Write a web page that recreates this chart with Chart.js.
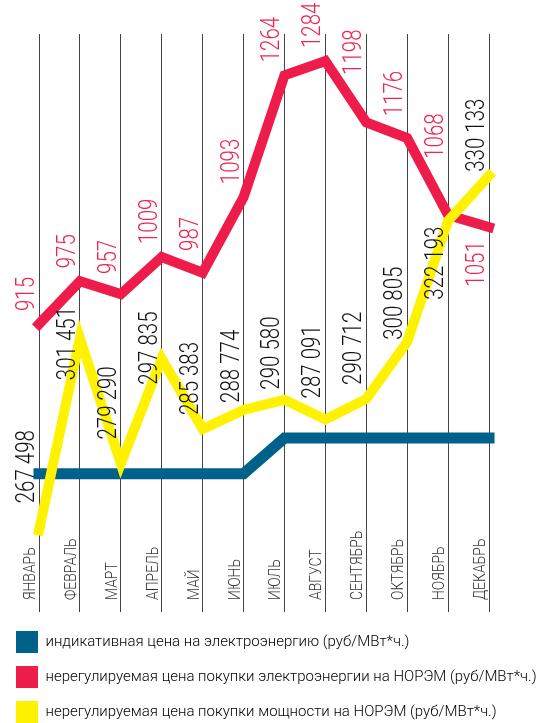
<!DOCTYPE html>
<html>
<head>
<meta charset="utf-8">
<script src="https://cdn.jsdelivr.net/npm/chart.js@4"></script>
<style>
  html, body { margin: 0; padding: 0; background: #fff; overflow: hidden; }
  #wrap { width: 540px; height: 733px; position: relative; }
</style>
</head>
<body>
<div id="wrap"><canvas id="myChart"></canvas></div>
<script>
// months on the x axis
const months = ["ЯНВАРЬ", "ФЕВРАЛЬ", "МАРТ", "АПРЕЛЬ", "МАЙ", "ИЮНЬ", "ИЮЛЬ", "АВГУСТ", "СЕНТЯБРЬ", "ОКТЯБРЬ", "НОЯБРЬ", "ДЕКАБРЬ"];

// indicative price (no labels in the picture, read off the red scale)
const indicativePrice = [705, 705, 705, 705, 705, 705, 755, 755, 755, 755, 755, 755];
// unregulated energy price on the wholesale market
const energyPrice = [915, 975, 957, 1009, 987, 1093, 1264, 1284, 1198, 1176, 1068, 1051];
// unregulated capacity price
const capacityPrice = [267498, 301451, 279290, 297835, 285383, 288774, 290580, 287091, 290712, 300805, 322193, 330133];

const seriesNames = [
  "индикативная цена на электроэнергию (руб/МВт*ч.)",
  "нерегулируемая цена покупки электроэнергии на НОРЭМ (руб/МВт*ч.)",
  "нерегулируемая цена покупки мощности на НОРЭМ (руб/МВт*ч.)",
];

const BLUE = "#00618a";
const RED = "#ed1c4a";
const YELLOW = "#fff200";
const FONT = 'Roboto, "Liberation Sans", sans-serif';

const fmt = (v) => String(v).replace(/\B(?=(\d{3})+(?!\d))/g, " ");

// write text turned 90deg counter-clockwise, anchored at (x, y),
// squeezed along its length to mimic the condensed face of the original
function drawUp(ctx, text, x, y, align, squeeze) {
  ctx.save();
  ctx.translate(x, y);
  ctx.rotate(-Math.PI / 2);
  ctx.scale(squeeze, 1);
  ctx.textAlign = align;
  ctx.textBaseline = "alphabetic";
  ctx.fillText(text, 0, 0);
  ctx.restore();
}

const valueLabels = {
  id: "valueLabels",
  afterDatasetsDraw(chart, args, opts) {
    const { ctx, chartArea, scales } = chart;
    ctx.save();

    // month names sit at the foot of every grid line
    ctx.font = "300 16px " + FONT;
    ctx.fillStyle = "#333";
    months.forEach((m, i) => {
      drawUp(ctx, m, scales.x.getPixelForValue(i) - 4, chartArea.bottom - 12, "left", 0.87);
    });

    // red values: above the line, clear of the segment on the left
    ctx.font = "300 25px " + FONT;
    ctx.fillStyle = "#ee2550";
    const red = chart.getDatasetMeta(1).data;
    red.forEach((p, i) => {
      let yl = p.y;
      if (i > 0) {
        const prev = red[i - 1];
        const xl = p.x - 23;
        yl = prev.y + ((xl - prev.x) / (p.x - prev.x)) * (p.y - prev.y);
      }
      const txt = String(energyPrice[i]);
      if (opts.redBelow.includes(i)) {
        drawUp(ctx, txt, p.x - 5, Math.max(p.y, yl) + 14, "right", 0.82);
      } else {
        drawUp(ctx, txt, p.x - 5, Math.min(p.y, yl) - 13, "left", 0.82);
      }
    });

    // black values for the capacity price
    ctx.fillStyle = "#111";
    const yel = chart.getDatasetMeta(2).data;
    yel.forEach((p, i) => {
      drawUp(ctx, fmt(capacityPrice[i]), p.x - 5, p.y + opts.capLabelShift[i], "left", 0.82);
    });

    ctx.restore();
  },
};

const ctx = document.getElementById("myChart");
new Chart(ctx, {
  type: "line",
  data: {
    labels: months,
    datasets: [
      {
        label: seriesNames[0],
        data: indicativePrice,
        yAxisID: "yE",
        borderColor: BLUE,
        backgroundColor: BLUE,
        borderWidth: 11,
        order: 2,
      },
      {
        label: seriesNames[1],
        data: energyPrice,
        yAxisID: "yE",
        borderColor: RED,
        backgroundColor: RED,
        borderWidth: 10,
        order: 1,
      },
      {
        label: seriesNames[2],
        data: capacityPrice,
        yAxisID: "yC",
        borderColor: YELLOW,
        backgroundColor: YELLOW,
        borderWidth: 10,
        order: 0,
      },
    ],
  },
  options: {
    responsive: true,
    maintainAspectRatio: false,
    animation: false,
    clip: false,
    layout: { padding: { top: 34, left: 3, right: 0, bottom: 0 } },
    elements: {
      line: { tension: 0, borderJoinStyle: "miter", borderCapStyle: "square", fill: false },
      point: { radius: 0, hoverRadius: 0 },
    },
    plugins: {
      tooltip: { enabled: false },
      legend: {
        position: "bottom",
        align: "start",
        labels: {
          boxWidth: 22,
          boxHeight: 22,
          padding: 13,
          color: "#222",
          font: { family: FONT, size: 15, weight: "300" },
          generateLabels: (chart) =>
            chart.data.datasets.map((ds, i) => ({
              text: ds.label,
              fillStyle: ds.backgroundColor,
              strokeStyle: ds.backgroundColor,
              lineWidth: 0,
              datasetIndex: i,
              hidden: false,
            })),
        },
      },
      valueLabels: {
        redBelow: [11],
        capLabelShift: [-27, 42, -24, 26, -14, -7, -10, -21, -14, -2, 79, -4],
      },
    },
    scales: {
      x: {
        offset: false,
        grid: { color: "#444", lineWidth: 1, drawTicks: false },
        border: { display: false },
        ticks: { display: false },
        afterFit: (s) => { s.height = 6; },
      },
      yE: {
        position: "left",
        min: 511,
        max: 1322,
        grid: { display: false },
        border: { display: false },
        ticks: { display: false },
        afterFit: (s) => { s.width = 36; },
      },
      yC: {
        position: "right",
        min: 253070,
        max: 355190,
        grid: { display: false },
        border: { display: false },
        ticks: { display: false },
        afterFit: (s) => { s.width = 51; },
      },
    },
  },
  plugins: [valueLabels],
});
</script>
</body>
</html>
